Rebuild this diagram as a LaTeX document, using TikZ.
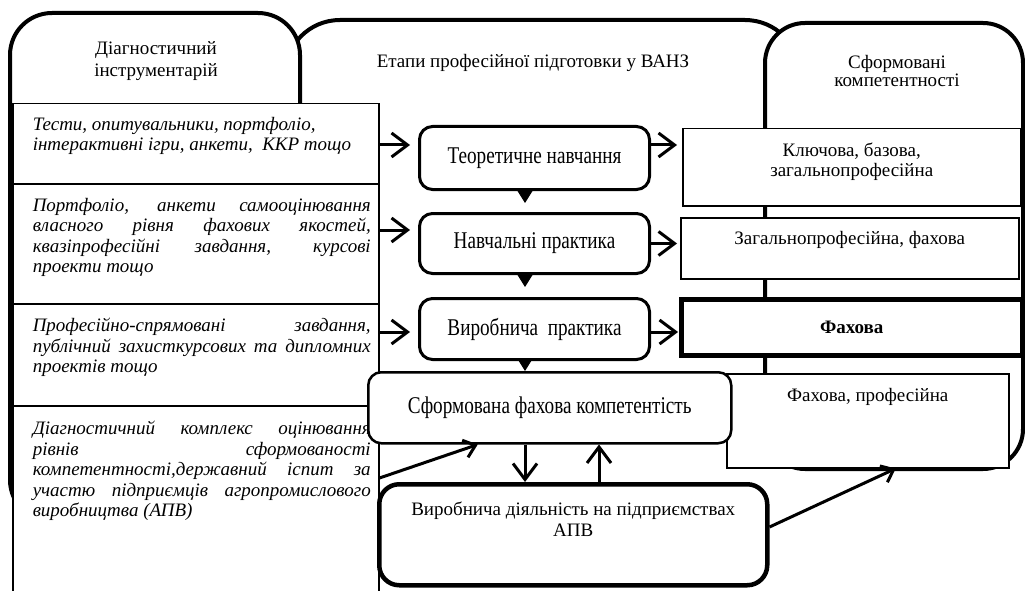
\documentclass[tikz,border=0pt]{standalone}
\usepackage{fontspec}
\setmainfont{Liberation Serif}
\usepackage{graphicx}
\usetikzlibrary{arrows.meta, positioning, calc}

\newcommand{\colfont}{\fontsize{19}{20.5}\selectfont\itshape}
\newcommand{\plainfont}{\fontsize{19}{21}\selectfont}
\newcommand{\stagefont}{\fontsize{24}{28}\selectfont}
\newcommand{\squeezed}[1]{\scalebox{0.8}[1]{#1}}

\begin{document}
\begin{tikzpicture}[x=1pt, y=-1pt,
    bigframe/.style={line width=4pt, rounded corners=40pt, fill=white},
    colbox/.style={draw, line width=1.5pt, fill=white, anchor=north west, inner sep=0pt},
    coltext/.style={inner sep=0pt, text width=338pt, align=justify, font=\colfont, xshift=6pt},
    stagebox/.style={draw, line width=3pt, rounded corners=13pt, fill=white, anchor=north west, inner sep=0pt, font=\stagefont},
    compbox/.style={draw, line width=1.5pt, fill=white, anchor=north west, inner sep=0pt, font=\plainfont},
    plaintext/.style={inner sep=0pt, align=center, font=\plainfont},
    arr/.style={line width=3pt, -{Straight Barb[length=16pt, width=24pt]}},
    diagarr/.style={line width=3pt, -{Straight Barb[length=11pt, width=18pt]}},
    tri/.style={line width=1pt, -{Triangle[length=13pt, width=16pt]}}
  ]

  \useasboundingbox (0,0) rectangle (1025,591);
  \clip (0,0) rectangle (1025,591);

  % Background frames
  \draw[line width=4pt, rounded corners=55pt] (285,300) -- (285,20) -- (800,20) -- (800,300);
  \draw[bigframe, rounded corners=42pt] (10,13) rectangle (300,522);
  \draw[bigframe] (765,23) rectangle (1023,469);

  % Frame titles
  \node[plaintext, font=\fontsize{19}{22}\selectfont] (toolstitle) at (156,61) {Діагностичний\\інструментарій};
  \node[plaintext] (stagestitle) at (533,63) {Етапи професійної підготовки у ВАНЗ};
  \node[plaintext, font=\fontsize{19}{18}\selectfont] (compstitle) at (897,71) {Сформовані\\компетентності};

  % Diagnostic tools
  \node[colbox, minimum width=366pt, minimum height=80pt] (tools1) at (12,103) {};
  \node[colbox, minimum width=366pt, minimum height=120pt] (tools2) at (12,183) {};
  \node[colbox, minimum width=366pt, minimum height=102pt] (tools3) at (12,303) {};
  \node[colbox, minimum width=366pt, minimum height=200pt] (tools4) at (12,405) {};

  \node[coltext, below=14pt of tools1.north] (tools1txt) {Тести, опитувальники, портфоліо,\\інтерактивні ігри, анкети,\ \ ККР тощо};
  \node[coltext, below=15pt of tools2.north] (tools2txt) {Портфоліо, анкети самооцінювання\linebreak власного рівня фахових якостей,\linebreak квазіпрофесійні завдання, курсові\linebreak проекти тощо};
  \node[coltext, below=15pt of tools3.north] (tools3txt) {Професійно-спрямовані завдання,\linebreak публічний захисткурсових та дипломних\linebreak проектів тощо};
  \node[coltext, below=16pt of tools4.north] (tools4txt) {Діагностичний комплекс оцінювання\linebreak рівнів сформованості\linebreak компетентності,державний іспит за\linebreak участю підприємців агропромислового\linebreak виробництва (АПВ)};

  % Stages of training
  \node[stagebox, minimum width=230pt, minimum height=63pt] (theory) at (418,125) {\squeezed{Теоретичне навчання}};
  \node[stagebox, minimum width=230pt, minimum height=60pt] (training) at (418,212) {\squeezed{Навчальні практика}};
  \node[stagebox, minimum width=230pt, minimum height=61pt] (internship) at (418,297) {\squeezed{Виробнича\ \ практика}};

  % Competences
  \node[compbox, minimum width=338pt, minimum height=77pt] (key) at (682,128) {};
  \node[plaintext, font=\fontsize{19}{20}\selectfont, below=15pt of key.north] (keytxt) {Ключова, базова,\\загальнопрофесійна};
  \node[compbox, minimum width=338pt, minimum height=61pt] (general) at (680,217) {};
  \node[plaintext, below=14pt of general.north] (generaltxt) {Загальнопрофесійна, фахова};
  \node[compbox, line width=4.5pt, minimum width=341pt, minimum height=56pt, font=\plainfont\bfseries] (special) at (679,297) {Фахова};
  \node[compbox, minimum width=282pt, minimum height=94pt] (specprof) at (726,373) {};
  \node[plaintext, below=15pt of specprof.north] (specproftxt) {Фахова, професійна};

  % Result and workplace
  \node[stagebox, line width=2.5pt, minimum width=363pt, minimum height=71pt] (formed) at (367,371) {\squeezed{Сформована фахова компетентість}};
  \node[stagebox, line width=4.5pt, rounded corners=20pt, minimum width=388pt, minimum height=101pt] (workplace) at (377,482) {};
  \node[plaintext, below=20pt of workplace.north] (workplacetxt) {Виробнича діяльність на підприємствах\\АПВ};

  % Arrows
  \coordinate (row1) at (0,145);
  \coordinate (row2) at (0,230);
  \coordinate (row3) at (0,332);
  \coordinate (row4) at (0,478);
  \coordinate (row5) at (0,527);
  \coordinate (spine) at (525,0);
  \coordinate (back) at (599,0);

  \draw[arr, shorten >=8pt] (tools1.east |- row1) -- (theory.west |- row1);
  \draw[arr, shorten >=8pt] (tools2.east |- row2) -- (training.west |- row2);
  \draw[arr, shorten >=8pt] (tools3.east |- row3) -- (internship.west |- row3);
  \draw[arr, shorten >=5pt] (theory.east |- row1) -- (key.west |- row1);
  \draw[arr, shorten >=3pt] (training.east) -- (general.west |- training.east);
  \draw[arr, shorten >=1pt] (internship.east |- row3) -- (special.west |- row3);

  \draw[tri, shorten >=9pt] (theory.south -| spine) -- (training.north -| spine);
  \draw[tri, shorten >=10pt] (training.south -| spine) -- (internship.north -| spine);
  \draw[tri] (internship.south -| spine) -- (formed.north -| spine);

  \draw[arr] (formed.south -| spine) -- (workplace.north -| spine);
  \draw[arr] (workplace.north -| back) -- (formed.south -| back);
  \draw[diagarr] (tools4.east |- row4) -- ([xshift=-72pt]formed.south);
  \draw[diagarr] (workplace.east |- row5) -- ([xshift=28pt]specprof.south);

\end{tikzpicture}
\end{document}
